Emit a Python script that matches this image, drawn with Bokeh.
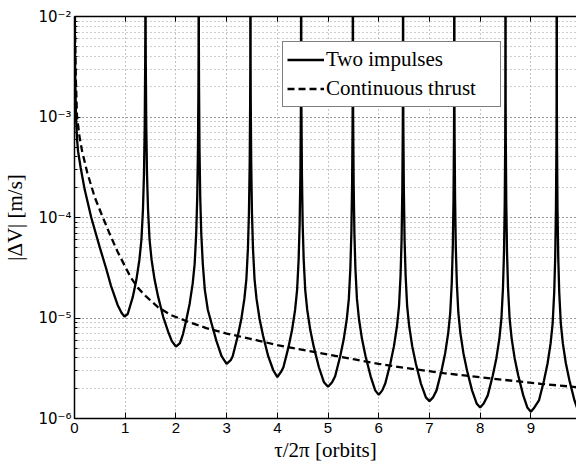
from bokeh.plotting import figure
from bokeh.models import Range1d, FixedTicker, LinearAxis, Legend, LegendItem
from bokeh.embed import file_html
from bokeh.resources import INLINE

# ---- data (tau/2pi in orbits, log10 of |dV| in m/s) ----
two_x = [
    0.0, 0.008, 0.018, 0.03, 0.05, 0.07, 0.12, 0.2, 0.33, 0.5, 0.62, 0.72, 0.85, 0.93, 0.985,
    1.05, 1.15, 1.22, 1.28, 1.32, 1.35, 1.37, 1.385, 1.394, 1.397, 1.40,
    1.403, 1.406, 1.415, 1.43, 1.45, 1.48, 1.52, 1.58, 1.65, 1.75, 1.85, 1.92, 2.0,
    2.08, 2.14, 2.20, 2.27, 2.33, 2.37, 2.40, 2.42, 2.435, 2.444, 2.447, 2.45,
    2.453, 2.456, 2.465, 2.48, 2.50, 2.53, 2.57, 2.63, 2.70, 2.80, 2.90, 3.0,
    3.08, 3.12, 3.22, 3.29, 3.35, 3.39, 3.42, 3.44, 3.455, 3.464, 3.467, 3.47,
    3.473, 3.476, 3.485, 3.50, 3.52, 3.55, 3.59, 3.65, 3.72, 3.82, 3.92, 4.0,
    4.08, 4.12, 4.22, 4.29, 4.35, 4.39, 4.42, 4.44, 4.455, 4.464, 4.467, 4.47,
    4.473, 4.476, 4.485, 4.50, 4.52, 4.55, 4.59, 4.65, 4.72, 4.82, 4.92, 5.0,
    5.08, 5.14, 5.24, 5.31, 5.37, 5.41, 5.44, 5.46, 5.475, 5.484, 5.487, 5.49,
    5.493, 5.496, 5.505, 5.52, 5.54, 5.57, 5.61, 5.67, 5.74, 5.84, 5.93, 6.0,
    6.07, 6.13, 6.23, 6.30, 6.36, 6.40, 6.43, 6.45, 6.465, 6.474, 6.477, 6.48,
    6.483, 6.486, 6.495, 6.51, 6.53, 6.56, 6.60, 6.66, 6.73, 6.83, 6.93, 7.0,
    7.07, 7.14, 7.24, 7.31, 7.37, 7.41, 7.44, 7.46, 7.475, 7.484, 7.487, 7.49,
    7.493, 7.496, 7.505, 7.52, 7.54, 7.57, 7.61, 7.67, 7.74, 7.84, 7.93, 8.0,
    8.07, 8.15, 8.25, 8.32, 8.38, 8.42, 8.45, 8.47, 8.485, 8.494, 8.497, 8.50,
    8.503, 8.506, 8.515, 8.53, 8.55, 8.58, 8.62, 8.68, 8.75, 8.85, 8.93, 9.0,
    9.07, 9.16, 9.26, 9.33, 9.39, 9.43, 9.46, 9.48, 9.495, 9.504, 9.507, 9.51,
    9.513, 9.516, 9.525, 9.54, 9.56, 9.59, 9.63, 9.69, 9.76, 9.86, 9.93, 10.0,
]
two_logv = [
    0.0, -2.3, -2.7, -3.0, -3.22, -3.34, -3.5, -3.72, -4.0, -4.3, -4.5, -4.68, -4.87, -4.95, -4.985,
    -4.96, -4.79, -4.62, -4.42, -4.22, -3.92, -3.57, -3.07, -2.47, -2.07, 0.0,
    -2.07, -2.47, -3.07, -3.57, -3.92, -4.22, -4.42, -4.62, -4.79, -4.99, -5.14, -5.23, -5.284,
    -5.25, -5.16, -5.03, -4.86, -4.66, -4.46, -4.16, -3.81, -3.31, -2.71, -2.31, 0.0,
    -2.31, -2.71, -3.31, -3.81, -4.16, -4.46, -4.72, -4.92, -5.05, -5.23, -5.38, -5.456,
    -5.42, -5.38, -5.18, -5.01, -4.81, -4.61, -4.31, -3.96, -3.46, -2.86, -2.46, 0.0,
    -2.46, -2.86, -3.46, -3.96, -4.31, -4.61, -4.81, -5.01, -5.18, -5.38, -5.52, -5.589,
    -5.53, -5.49, -5.29, -5.12, -4.92, -4.72, -4.42, -4.07, -3.57, -2.97, -2.57, 0.0,
    -2.57, -2.97, -3.57, -4.07, -4.42, -4.72, -4.92, -5.12, -5.29, -5.49, -5.64, -5.685,
    -5.64, -5.58, -5.38, -5.21, -5.01, -4.81, -4.51, -4.16, -3.66, -3.06, -2.66, 0.0,
    -2.66, -3.06, -3.66, -4.16, -4.51, -4.81, -5.01, -5.21, -5.38, -5.58, -5.72, -5.764,
    -5.72, -5.65, -5.45, -5.28, -5.08, -4.88, -4.58, -4.23, -3.73, -3.13, -2.73, 0.0,
    -2.73, -3.13, -3.73, -4.23, -4.58, -4.88, -5.08, -5.28, -5.45, -5.65, -5.79, -5.828,
    -5.79, -5.72, -5.52, -5.35, -5.15, -4.95, -4.65, -4.30, -3.80, -3.20, -2.80, 0.0,
    -2.80, -3.20, -3.80, -4.30, -4.65, -4.95, -5.15, -5.35, -5.52, -5.72, -5.85, -5.891,
    -5.85, -5.77, -5.57, -5.40, -5.20, -5.00, -4.70, -4.35, -3.85, -3.25, -2.85, 0.0,
    -2.85, -3.25, -3.85, -4.35, -4.70, -5.00, -5.20, -5.40, -5.57, -5.77, -5.89, -5.933,
    -5.89, -5.82, -5.62, -5.45, -5.25, -5.05, -4.75, -4.40, -3.90, -3.30, -2.90, 0.0,
    -2.90, -3.30, -3.90, -4.40, -4.75, -5.05, -5.25, -5.45, -5.62, -5.82, -5.92, -5.97,
]
cont_x = [0.0, 0.01, 0.025, 0.05, 0.1, 0.15, 0.25, 0.4, 0.56, 0.7, 0.85, 1.0, 1.115, 1.25, 1.4,
          1.64, 1.9, 2.2, 2.6, 3.0, 3.62, 4.0, 4.93, 5.5, 6.0, 6.5, 7.28, 8.0, 8.59, 9.2, 9.9]
cont_logv = [0.0, -2.1, -2.6, -3.0, -3.2, -3.34, -3.55, -3.8, -4.0, -4.17, -4.34, -4.49, -4.6, -4.70, -4.78,
             -4.89, -4.97, -5.03, -5.1, -5.155, -5.224, -5.27, -5.356, -5.41, -5.456, -5.495, -5.549, -5.59, -5.622,
             -5.655, -5.688]

x_ticks = [0, 1, 2, 3, 4, 5, 6, 7, 8, 9]
y_ticks = [1e-6, 1e-5, 1e-4, 1e-3, 1e-2]
y_tick_labels = ["10\u207b\u2076", "10\u207b\u2075", "10\u207b\u2074", "10\u207b\u00b3", "10\u207b\u00b2"]
y_minor = [k * d for d in [1e-6, 1e-5, 1e-4, 1e-3] for k in range(2, 10)]

two_y = [10 ** v for v in two_logv]
cont_y = [10 ** v for v in cont_logv]

p = figure(width=576, height=470, x_range=Range1d(0, 9.9), y_range=Range1d(1e-6, 1e-2),
           y_axis_type="log", output_backend="svg", toolbar_location=None,
           min_border_left=73, min_border_right=0, min_border_top=16, min_border_bottom=52)
p.outline_line_color = None
p.background_fill_color = "white"
p.border_fill_color = "white"

r1 = p.line(two_x, two_y, line_color="black", line_width=2.3)
r2 = p.line(cont_x, cont_y, line_color="black", line_width=2.3, line_dash="7 4")

# axes
p.xaxis.ticker = FixedTicker(ticks=x_ticks)
p.yaxis.ticker = FixedTicker(ticks=y_ticks, minor_ticks=y_minor)
for ax in (p.xaxis[0], p.yaxis[0]):
    ax.axis_line_color = "black"
    ax.axis_line_width = 1.5
    ax.major_tick_line_color = "black"
    ax.minor_tick_line_color = "black"
    ax.major_tick_in = 6
    ax.major_tick_out = 0
    ax.minor_tick_in = 3
    ax.minor_tick_out = 0
    ax.major_label_text_font = "Liberation Sans"
    ax.major_label_text_font_size = "15px"
    ax.major_label_text_color = "black"
    ax.axis_label_text_font = "Liberation Serif"
    ax.axis_label_text_font_style = "normal"
    ax.axis_label_text_color = "black"
    ax.axis_label_text_font_size = "21px"
p.xaxis.minor_tick_line_color = None
p.xaxis.major_label_standoff = 4
p.yaxis.major_label_overrides = dict(zip(y_ticks, y_tick_labels))
p.yaxis.major_label_text_font = "DejaVu Sans"
p.yaxis.major_label_text_font_size = "15px"
p.yaxis.major_label_standoff = 3
p.xaxis.axis_label = "\u03c4/2\u03c0 [orbits]"
p.yaxis.axis_label = "|\u0394V| [m/s]"
p.xaxis.axis_label_standoff = 2
p.yaxis.axis_label_standoff = 8

top = LinearAxis(ticker=FixedTicker(ticks=x_ticks), axis_line_color="black", axis_line_width=1.5,
                 major_tick_in=5, major_tick_out=0, minor_tick_line_color=None,
                 major_label_text_font_size="0px", major_label_text_color=None)
p.add_layout(top, "above")

# grid
p.xgrid.ticker = FixedTicker(ticks=x_ticks)
p.xgrid.grid_line_color = "#8a8a8a"
p.xgrid.grid_line_dash = "1 3"
p.ygrid.grid_line_color = "#333333"
p.ygrid.grid_line_dash = "1 3"
p.ygrid.minor_grid_line_color = "#9a9a9a"
p.ygrid.minor_grid_line_dash = "1 3"

legend = Legend(items=[LegendItem(label="Two impulses", renderers=[r1]),
                       LegendItem(label="Continuous thrust", renderers=[r2])],
                location=(208, 311), padding=4, spacing=2, margin=0,
                glyph_width=37, glyph_height=27, label_height=27, label_width=170,
                label_standoff=2, label_text_font="Liberation Serif", label_text_font_size="21px",
                label_text_color="black",
                border_line_color="black", border_line_width=1,
                background_fill_color="white", background_fill_alpha=1)
p.add_layout(legend, "center")

open("out.html", "w").write(file_html(p, INLINE))
